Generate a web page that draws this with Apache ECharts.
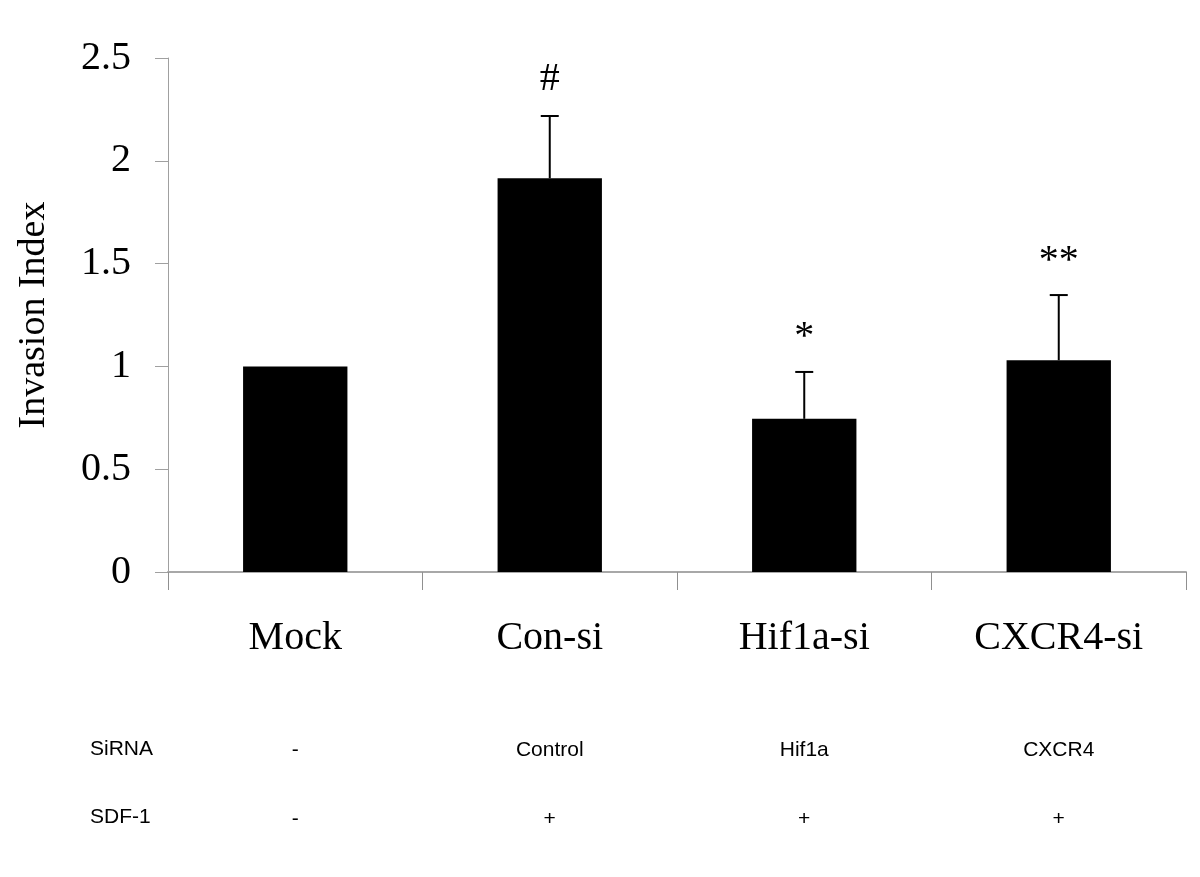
<!DOCTYPE html>
<html>
<head>
<meta charset="utf-8">
<script src="https://cdn.jsdelivr.net/npm/echarts@6/dist/echarts.min.js"></script>
<style>
html,body{margin:0;padding:0;background:#fff;}
#chart{width:1200px;height:877px;}
</style>
</head>
<body>
<div id="chart"></div>
<script>
var categories = ["Mock", "Con-si", "Hif1a-si", "CXCR4-si"];
var values = [1.0, 1.915, 0.745, 1.03];
var errors = [0, 0.303, 0.228, 0.317];
var marks = ["", "#", "*", "**"];
var yTicks = [0, 0.5, 1, 1.5, 2, 2.5];
var siRNARow = ["-", "Control", "Hif1a", "CXCR4"];
var sdfRow = ["-", "+", "+", "+"];
var rowTitles = ["SiRNA", "SDF-1"];

var chart = echarts.init(document.getElementById('chart'), null, {renderer: 'canvas'});
var serif = '"Liberation Serif", "Times New Roman", serif';
var sans = '"Liberation Sans", Arial, sans-serif';

var option = {
  animation: false,
  backgroundColor: '#fff',
  grid: {left: 168, right: 14, top: 58, bottom: 305, containLabel: false, outerBoundsMode: 'none'},
  xAxis: [
    {
      type: 'category', data: categories, position: 'bottom',
      axisLine: {show: true, lineStyle: {color: '#a8a8a8', width: 2}},
      axisTick: {show: true, length: 18, alignWithLabel: false, lineStyle: {color: '#909090', width: 1}},
      axisLabel: {margin: 46, fontFamily: serif, fontSize: 40, color: '#000'},
      splitLine: {show: false}
    },
    {
      type: 'category', data: siRNARow, position: 'bottom', offset: 160,
      axisLine: {show: false}, axisTick: {show: false},
      axisLabel: {margin: 8, fontFamily: sans, fontSize: 21, color: '#000'}
    },
    {
      type: 'category', data: sdfRow, position: 'bottom', offset: 230,
      axisLine: {show: false}, axisTick: {show: false},
      axisLabel: {margin: 7, fontFamily: sans, fontSize: 21, color: '#000'}
    }
  ],
  yAxis: {
    type: 'value', min: yTicks[0], max: yTicks[yTicks.length - 1], interval: yTicks[1] - yTicks[0],
    name: 'Invasion Index', nameLocation: 'middle', nameGap: 115, nameMoveOverlap: false,
    nameTextStyle: {fontFamily: serif, fontSize: 38, color: '#000'},
    axisLine: {show: true, lineStyle: {color: '#a0a0a0', width: 1}},
    axisTick: {show: true, length: 13, lineStyle: {color: '#a0a0a0', width: 1}},
    axisLabel: {margin: 37, fontFamily: serif, fontSize: 40, color: '#000'},
    splitLine: {show: false}
  },
  graphic: [
    {type: 'text', left: 90, top: 739, style: {text: rowTitles[0], font: '21px ' + sans, fill: '#000'}},
    {type: 'text', left: 90, top: 807, style: {text: rowTitles[1], font: '21px ' + sans, fill: '#000'}}
  ],
  series: [
    {
      type: 'bar', data: values, barWidth: '41%',
      itemStyle: {color: '#000'}, silent: true
    },
    {
      type: 'custom', silent: true, z: 5,
      data: categories.map(function (c, i) { return [i, values[i], errors[i]]; }),
      renderItem: function (params, api) {
        var i = api.value(0);
        var v = api.value(1);
        var e = api.value(2);
        var m = marks[i];
        var base = api.coord([i, v]);
        var top = api.coord([i, v + e]);
        var children = [];
        if (e > 0) {
          children.push({type: 'line', shape: {x1: base[0], y1: base[1], x2: top[0], y2: top[1]}, style: {stroke: '#000', lineWidth: 2}});
          children.push({type: 'line', shape: {x1: top[0] - 9, y1: top[1], x2: top[0] + 9, y2: top[1]}, style: {stroke: '#000', lineWidth: 2}});
        }
        if (m) {
          var isStar = m.indexOf('*') >= 0;
          children.push({type: 'text', x: top[0], y: top[1] - (isStar ? 34 : 36),
            style: {text: m, font: '40px ' + serif, fill: '#000', align: 'center', verticalAlign: 'middle'}});
        }
        return {type: 'group', children: children};
      }
    }
  ]
};
chart.setOption(option);
</script>
</body>
</html>
